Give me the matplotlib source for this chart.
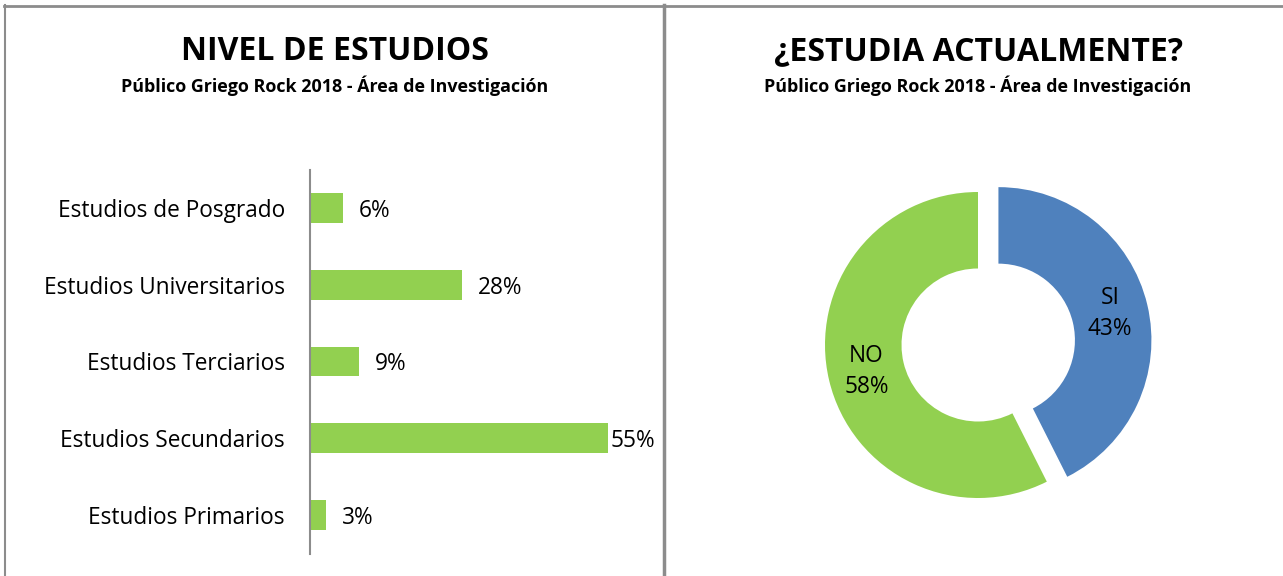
import matplotlib
matplotlib.use("Agg")
import matplotlib.pyplot as plt
from matplotlib.lines import Line2D
import numpy as np

# ---- data ----
categories = ["Estudios Primarios", "Estudios Secundarios", "Estudios Terciarios",
              "Estudios Universitarios", "Estudios de Posgrado"]
bar_values = [3, 55, 9, 28, 6]
pie_labels = ["SI", "NO"]
pie_values = [43, 58]

title_left = "NIVEL DE ESTUDIOS"
title_right = "¿ESTUDIA ACTUALMENTE?"
subtitle = "Público Griego Rock 2018 - Área de Investigación"

W, H = 1283, 576
fig = plt.figure(figsize=(W / 100, H / 100), dpi=100)
fig.patch.set_facecolor("white")
FONT = ["Open Sans", "DejaVu Sans"]
LABEL_FS = 16.3


def px_axes(x0, y0, x1, y1):
    """axes from pixel box (top-left origin)"""
    return fig.add_axes([x0 / W, 1 - y1 / H, (x1 - x0) / W, (y1 - y0) / H])


# ---- borders ----
border_color = "#8c8c8c"
fig.add_artist(Line2D([4.5 / W, 4.5 / W], [0, 1 - 5 / H], transform=fig.transFigure,
                      color=border_color, lw=1.5))
fig.add_artist(Line2D([4 / W, 1], [1 - 5.5 / H, 1 - 5.5 / H], transform=fig.transFigure,
                      color=border_color, lw=2))
fig.add_artist(Line2D([664 / W, 664 / W], [0, 1 - 5 / H], transform=fig.transFigure,
                      color=border_color, lw=2.5))

# ---- titles ----
for cx, t in [(335, title_left), (978, title_right)]:
    fig.text(cx / W, 1 - 52 / H, t, ha="center", va="center", fontsize=23,
             fontweight="bold", family=FONT)
    fig.text(cx / W, 1 - 86 / H, subtitle, ha="center", va="center", fontsize=12.9,
             fontweight="bold", family=FONT)

# ---- bar chart ----
green = "#92D050"
blue = "#4F81BD"
ax = px_axes(310, 169.5, 655, 553.5)
xmax = (655 - 310) / 5.42
ypos = list(range(len(categories)))
bars = ax.barh(ypos, bar_values, height=0.39, color=green)
ax.set_xlim(0, xmax)
ax.set_ylim(-0.5, len(categories) - 0.5)
ax.set_yticks(ypos)
ax.set_yticklabels(categories, fontsize=LABEL_FS, family=FONT)
ax.tick_params(axis="y", length=0, pad=18)
ax.set_xticks([])
for s in ["top", "right", "bottom"]:
    ax.spines[s].set_visible(False)
ax.spines["left"].set_color("#8c8c8c")
ax.spines["left"].set_linewidth(1.5)

fig.canvas.draw()
renderer = fig.canvas.get_renderer()
for y, v in zip(ypos, bar_values):
    gap = 16 / 5.42
    t = ax.text(v + gap, y, f"{v}%", ha="left", va="center_baseline", fontsize=LABEL_FS,
                family=FONT)
    bb = t.get_window_extent(renderer)
    wdata = bb.width / 5.42
    if v + gap + wdata > xmax:
        t.set_x(max(v + 0.5, xmax - wdata))

# ---- donut ----
R = 153
half = 200
axp = px_axes(978 - half, 345 - half, 978 + half, 345 + half)
lim = half / R
explode = [21 / R, 0]
axp.pie(pie_values, colors=[blue, green], startangle=90, counterclock=False,
        explode=explode, radius=1, wedgeprops=dict(width=0.5, linewidth=0))
axp.set_xlim(-lim, lim)
axp.set_ylim(-lim, lim)
axp.set_aspect("equal")
axp.axis("off")
total = sum(pie_values)
start = 90.0
for lab, v, off in zip(pie_labels, pie_values, explode):
    ang = start - 360 * v / total / 2
    a = np.deg2rad(ang)
    r = 0.75 + off
    axp.text(r * np.cos(a), r * np.sin(a), f"{lab}\n{v}%",
             ha="center", va="center", fontsize=LABEL_FS, family=FONT, linespacing=1.35)
    start -= 360 * v / total

fig.savefig("out.png", dpi=100, facecolor="white")
